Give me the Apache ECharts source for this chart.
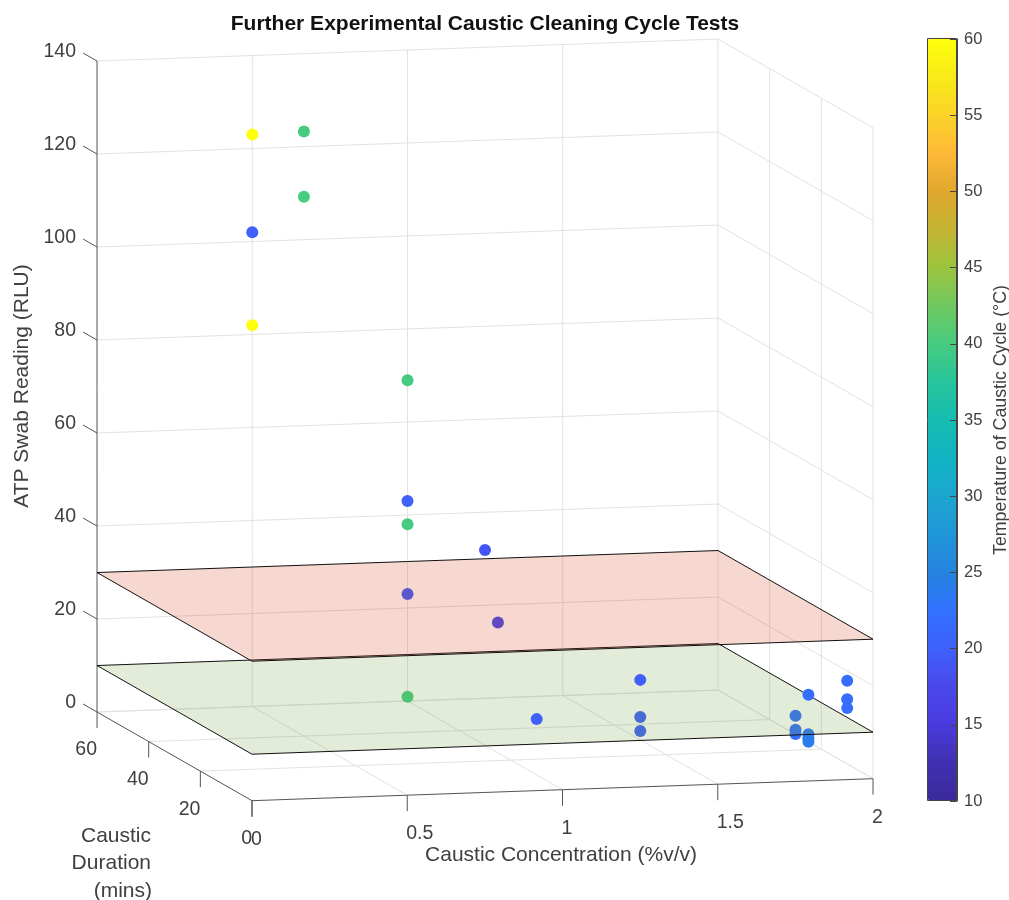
<!DOCTYPE html>
<html>
<head>
<meta charset="utf-8">
<style>html,body{margin:0;padding:0;background:#fff}#c{width:1009px;height:900px}</style>
<script src="https://cdn.jsdelivr.net/npm/echarts@6/dist/echarts.min.js"></script>
</head>
<body>
<div id="c"></div>
<script>
// ---- data ----
var concentration = [0.5,0.5,0.5,0.5,0.5,1,1,1,1,1,1,1,1,1.5,1.5,1.5,2,2,2,2,2,2,2,2,2,2];
var duration      = [60,60,60,40,40,60,60,60,60,60,30,25,10,30,30,30,10,10,10,25,25,25,25,30,30,30];
var atpReading    = [123,102,82,130,116,69,43,38,23,0.9,42,28,12,12.9,4.9,1.9,17.9,13.9,12,10.1,1.6,0.7,0,4,1,0.1];
var temperature   = [60,20,60,40,40,40,20,40,20,40,19,18,20,20,20,20,22,22,22,22,23,24,24,22,22,22];
var concTicks = [0,0.5,1,1.5,2];
var concLabels = ['0','0.5','1','1.5','2'];
var durTicks = [0,20,40,60];
var durLabels = ['0','20','40','60'];
var atpTicks = [0,20,40,60,80,100,120,140];
var tempRange = [10,60];
var lowerLimit = 10, upperLimit = 30;
var colorStops = ['#3b2a9c','#4030b0','#4a3ade','#4a48ea','#3f60fb','#3272ff','#2583e0','#2096d8','#1ca6cf','#10b4c4','#14bdb0','#28c49c','#46cc80','#70c860','#9cc43f','#c4b432','#e0a82e','#ffb838','#fad428','#f8ea18','#ffff0c'];

// ---- oblique 3D projection onto two hidden helper axes ----
var PX_C = 310.5, PY_C = 11, PX_D = 2.583, PY_D = 1.478, PY_Z = 4.65, X0 = 252, Y0 = 800.7;
function project(c, d, z) {
  return [c - d * PX_D / PX_C, z + (PY_C * c + PY_D * d) / PY_Z];
}
var W = 1009, H = 900;

function seg(a, b) { var p = project(a[0],a[1],a[2]), q = project(b[0],b[1],b[2]); return [p[0],p[1],q[0],q[1]]; }
var zMax = atpTicks[atpTicks.length-1], cMax = concTicks[concTicks.length-1], dMax = durTicks[durTicks.length-1];
var gridSegs = [], axisSegs = [];
concTicks.forEach(function(c){
  if (c>0) gridSegs.push(seg([c,0,0],[c,dMax,0]));
  if (c>0) gridSegs.push(seg([c,dMax,0],[c,dMax,zMax]));
  axisSegs.push(seg([c,0,0],[c,0,-3.44]));
});
durTicks.forEach(function(d){
  if (d>0) gridSegs.push(seg([0,d,0],[cMax,d,0]));
  if (d<dMax) gridSegs.push(seg([cMax,d,0],[cMax,d,zMax]));
  axisSegs.push(seg([0,d,0],[0,d,-3.44]));
});
atpTicks.forEach(function(z){
  gridSegs.push(seg([0,dMax,z],[cMax,dMax,z]));
  gridSegs.push(seg([cMax,dMax,z],[cMax,0,z]));
  axisSegs.push(seg([0,dMax,z],[0,dMax+5.4,z]));
});
axisSegs.push(seg([0,dMax,0],[0,dMax,zMax]));
axisSegs.push(seg([0,0,0],[0,dMax,0]));
axisSegs.push(seg([0,0,0],[cMax,0,0]));

function segSeries(rows, color, width, z) {
  return {
    type:'custom', data:rows, z:z, silent:true, clip:false, encode:{x:[0,2],y:[1,3]},
    renderItem:function(p, api){
      var a = api.coord([api.value(0),api.value(1)]), b = api.coord([api.value(2),api.value(3)]);
      return {type:'line', shape:{x1:a[0],y1:a[1],x2:b[0],y2:b[1]}, style:{stroke:color,lineWidth:width}};
    }
  };
}
function planeSeries(level, fill, z) {
  var corners = [[0,0],[cMax,0],[cMax,dMax],[0,dMax]].map(function(k){ return project(k[0],k[1],level); });
  return {
    type:'custom', data:[corners[0]], z:z, silent:true, clip:false,
    renderItem:function(p, api){
      return {type:'polygon', shape:{points:corners.map(function(k){return api.coord(k);})},
        style:{fill:fill, stroke:'#111', lineWidth:1}};
    }
  };
}
function textSeries(rows, align, dx, dy) {
  return {
    type:'custom', data:rows.map(function(r){ return [r[0],r[1]]; }), z:9, silent:true, clip:false,
    renderItem:function(p, api){
      var a = api.coord([api.value(0),api.value(1)]);
      return {type:'text', style:{text:rows[p.dataIndex][2], x:a[0]+dx, y:a[1]+dy, align:align, verticalAlign:'middle',
        fill:'#404040', fontSize:19.5, fontFamily:'Liberation Sans'}};
    }
  };
}
function scatterRows(lo, hi) {
  var out = [];
  atpReading.forEach(function(z,i){
    if (z>lo && z<=hi) { var p = project(concentration[i],duration[i],z); out.push([p[0],p[1],temperature[i]]); }
  });
  return out;
}
function scatterSeries(rows, z) {
  return {type:'scatter', data:rows, symbolSize:12, z:z, silent:true, clip:false, encode:{x:0,y:1}, itemStyle:{opacity:1}};
}
var atpLabelRows = atpTicks.map(function(z){ var p = project(0,dMax,z); return [p[0],p[1],String(z)]; });
var durLabelRows = durTicks.map(function(d,i){ var p = project(0,d,0); return [p[0],p[1],durLabels[i]]; });
var concLabelRows = concTicks.map(function(c,i){ var p = project(c,0,0); return [p[0],p[1],concLabels[i]]; });

var labelFont = {fill:'#404040', fontSize:21, fontFamily:'Liberation Sans', verticalAlign:'middle'};
function styled(text, align) { return Object.assign({text:text, align:align}, labelFont); }

var chart = echarts.init(document.getElementById('c'), null, {renderer:'canvas'});
chart.setOption({
  animation:false,
  backgroundColor:'#fff',
  title:{text:'Further Experimental Caustic Cleaning Cycle Tests', left:485, top:14, textAlign:'center', padding:0,
    textStyle:{fontFamily:'Liberation Sans', fontWeight:'bold', fontSize:21, color:'#111'}},
  tooltip:{show:false},
  grid:[
    {left:0, top:0, width:W, height:H, show:false, outerBoundsMode:'none'},
    {left:928, top:39, width:29, height:762, show:false, outerBoundsMode:'none'}
  ],
  xAxis:[
    {gridIndex:0, type:'value', show:false, min:(0-X0)/PX_C, max:(W-X0)/PX_C},
    {gridIndex:1, type:'value', show:false, min:0, max:1}
  ],
  yAxis:[
    {gridIndex:0, type:'value', show:false, min:(Y0-H)/PY_Z, max:Y0/PY_Z},
    {gridIndex:1, type:'value', position:'right', min:tempRange[0], max:tempRange[1], interval:5, z:10,
      name:'Temperature of Caustic Cycle (\u00b0C)', nameLocation:'middle', nameGap:35, nameRotate:90,
      nameTextStyle:{color:'#404040', fontSize:17.8, fontFamily:'Liberation Sans'},
      axisLine:{show:true, onZero:false, lineStyle:{color:'#444', width:1}},
      axisTick:{show:true, inside:true, length:7, lineStyle:{color:'#444', width:1}},
      axisLabel:{color:'#404040', fontSize:16.5, fontFamily:'Liberation Sans', margin:7},
      splitLine:{show:false}}
  ],
  visualMap:{type:'continuous', min:tempRange[0], max:tempRange[1], dimension:2, seriesIndex:[0,1,2],
    inRange:{color:colorStops}, left:928, top:39, itemWidth:29, itemHeight:762, padding:0, calculable:false, z:1, hoverLink:false},
  graphic:[
    {type:'rect', z:20, silent:true, shape:{x:927.5,y:38.5,width:29,height:762}, style:{fill:'none',stroke:'#444',lineWidth:1}},
    {type:'text', z:20, silent:true, x:22, y:386, rotation:Math.PI/2, style:styled('ATP Swab Reading (RLU)','center')},
    {type:'text', z:20, silent:true, x:561, y:855, style:styled('Caustic Concentration (%v/v)','center')},
    {type:'text', z:20, silent:true, x:151, y:836, style:styled('Caustic','right')},
    {type:'text', z:20, silent:true, x:151, y:863.5, style:styled('Duration','right')},
    {type:'text', z:20, silent:true, x:152, y:891.5, style:styled('(mins)','right')}
  ],
  series:[
    scatterSeries(scatterRows(-1e9,lowerLimit), 4),
    scatterSeries(scatterRows(lowerLimit,upperLimit), 6),
    scatterSeries(scatterRows(upperLimit,1e9), 8),
    segSeries(gridSegs, '#e2e2e2', 1, 1),
    segSeries(axisSegs, '#555', 1, 3),
    planeSeries(lowerLimit, 'rgba(110,160,60,0.2)', 5),
    planeSeries(upperLimit, 'rgba(210,60,20,0.2)', 7),
    textSeries(atpLabelRows, 'right', -21, -9),
    textSeries(durLabelRows, 'right', 0, 38),
    textSeries(concLabelRows, 'left', -1, 38.5)
  ]
});
</script>
</body>
</html>
